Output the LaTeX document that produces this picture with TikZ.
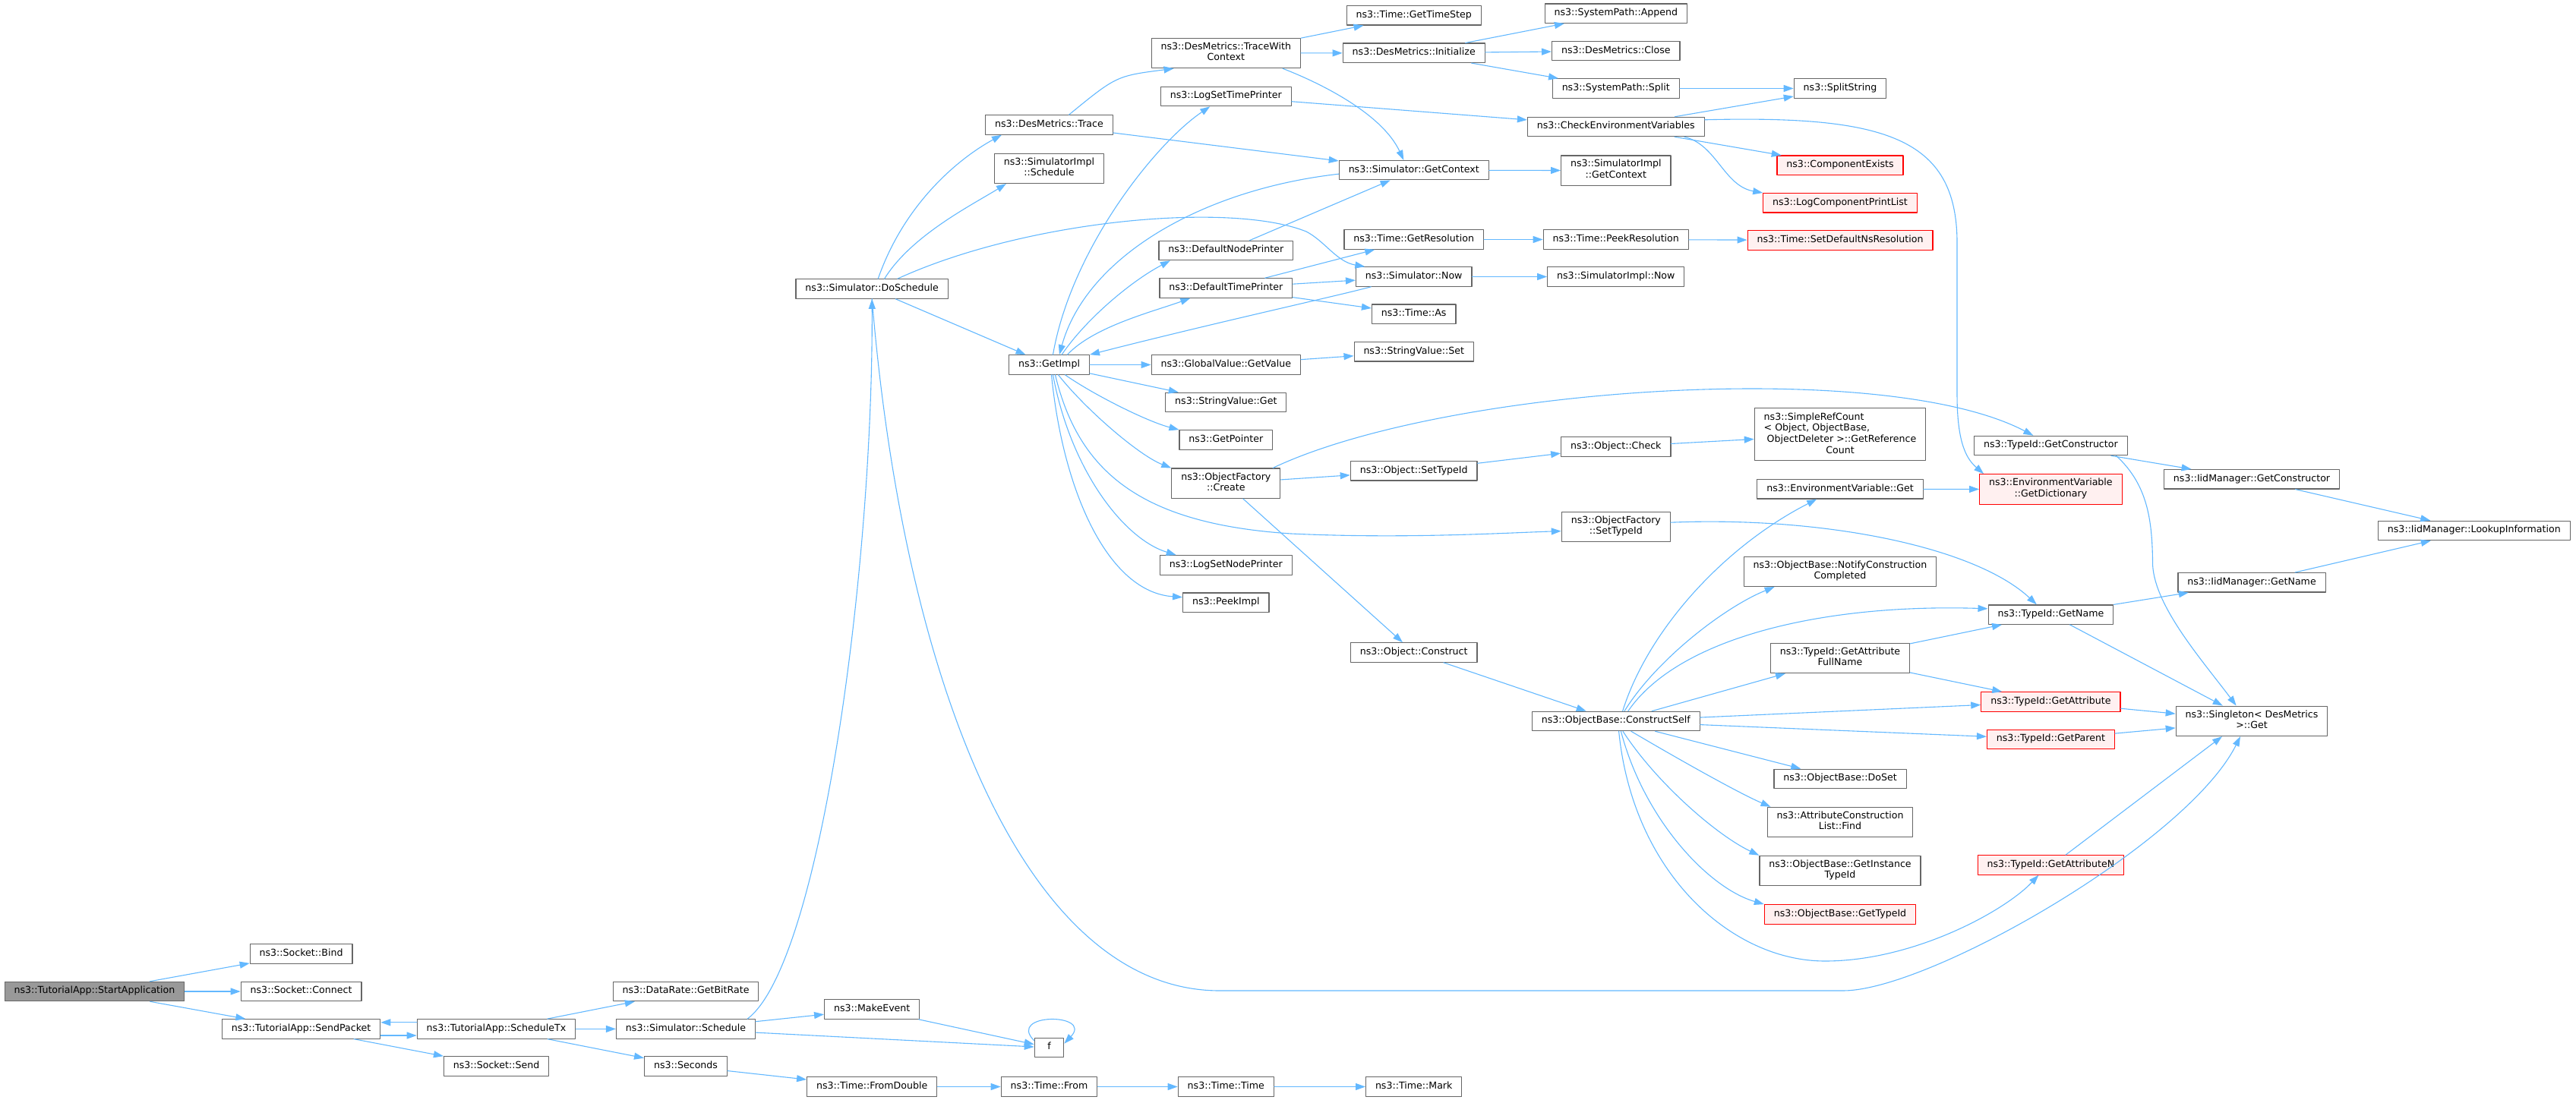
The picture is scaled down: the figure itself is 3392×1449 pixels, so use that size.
\documentclass[tikz,border=0pt]{standalone}
\usepackage{fontspec}
\setmainfont{DejaVu Sans}
\usetikzlibrary{arrows.meta}

\definecolor{callblue}{HTML}{63B8FF}
\definecolor{boxedge}{HTML}{666666}
\definecolor{rootfill}{HTML}{999999}
\definecolor{warnfill}{HTML}{FFF0F0}
\newcommand{\doxfont}{\fontsize{6.3}{7.3}\selectfont}

\begin{document}
\begin{tikzpicture}[x = 0.5pt, y = -0.5pt, line cap = round, line join = round,
  fnbase/.style = {draw = boxedge, fill = white, line width = 0.6pt, font = \doxfont,
    inner xsep = 6.2pt, inner ysep = 2.7pt,
    execute at begin node = \strut, execute at end node = \strut},
  fn/.style = {fnbase, align = center},
  rootfn/.style = {fn, fill = rootfill},
  warnfn/.style = {fn, draw = red, fill = warnfill},
  call/.style = {-{Triangle[length = 6.5pt, width = 4.5pt]}, draw = callblue,
    line width = 0.55pt}]
  \useasboundingbox (0, 0) rectangle (3392, 1449);

  % left part
  \node[rootfn] (start) at (124.5, 1306) {ns3::TutorialApp::StartApplication};
  \node[fn] (bind) at (396.6, 1256.5) {ns3::Socket::Bind};
  \node[fn] (connect) at (396.6, 1306) {ns3::Socket::Connect};
  \node[fn] (sendpkt) at (396.6, 1355.4) {ns3::TutorialApp::SendPacket};
  \node[fn] (schedtx) at (653.5, 1355.4) {ns3::TutorialApp::ScheduleTx};
  \node[fn] (send) at (653.5, 1404.5) {ns3::Socket::Send};
  \node[fn] (bitrate) at (903, 1306) {ns3::DataRate::GetBitRate};
  \node[fn] (sched) at (903, 1355.4) {ns3::Simulator::Schedule};
  \node[fn] (seconds) at (903, 1404.5) {ns3::Seconds};
  \node[fn] (makeevent) at (1148.2, 1329.5) {ns3::MakeEvent};
  \node[fn, minimum width = 19.2pt] (f) at (1381.5, 1380) {f};
  \node[fn] (fromdouble) at (1148.2, 1431.5) {ns3::Time::FromDouble};
  \node[fn] (from) at (1381.5, 1431.5) {ns3::Time::From};
  \node[fn] (ttime) at (1614.3, 1431.5) {ns3::Time::Time};
  \node[fn] (mark) at (1861.7, 1431.5) {ns3::Time::Mark};

  % simulator part
  \node[fn] (dosched) at (1148.2, 380.5) {ns3::Simulator::DoSchedule};
  \node[fn] (trace) at (1381.5, 164.5) {ns3::DesMetrics::Trace};
  \node[fn] (simimplsched) at (1381.5, 221.8) {ns3::SimulatorImpl\\::Schedule};
  \node[fn] (getimpl) at (1381.5, 480.5) {ns3::GetImpl};
  \node[fn] (twc) at (1614.3, 70) {ns3::DesMetrics::TraceWith\\Context};
  \node[fn] (logsettime) at (1614.3, 127) {ns3::LogSetTimePrinter};
  \node[fn] (defnode) at (1614.3, 330) {ns3::DefaultNodePrinter};
  \node[fn] (deftime) at (1614.3, 379.5) {ns3::DefaultTimePrinter};
  \node[fn] (getvalue) at (1614.3, 480.5) {ns3::GlobalValue::GetValue};
  \node[fn] (svget) at (1614.3, 530) {ns3::StringValue::Get};
  \node[fn] (getpointer) at (1614.3, 579.4) {ns3::GetPointer};
  \node[fn] (create) at (1614.3, 636.7) {ns3::ObjectFactory\\::Create};
  \node[fn] (lognode) at (1614.3, 744.4) {ns3::LogSetNodePrinter};
  \node[fn] (peekimpl) at (1614.3, 793.7) {ns3::PeekImpl};
  \node[fn] (timestep) at (1861.7, 20.3) {ns3::Time::GetTimeStep};
  \node[fn] (init) at (1861.7, 69.8) {ns3::DesMetrics::Initialize};
  \node[fn] (simctx) at (1861.7, 224.2) {ns3::Simulator::GetContext};
  \node[fn] (getres) at (1861.7, 315.5) {ns3::Time::GetResolution};
  \node[fn] (simnow) at (1861.7, 364.5) {ns3::Simulator::Now};
  \node[fn] (timeas) at (1861.7, 413.7) {ns3::Time::As};
  \node[fn] (svset) at (1861.7, 463.3) {ns3::StringValue::Set};
  \node[fn] (objsettype) at (1861.7, 620.3) {ns3::Object::SetTypeId};
  \node[fn] (construct) at (1861.7, 859.5) {ns3::Object::Construct};
  \node[fn] (append) at (2127.8, 17.7) {ns3::SystemPath::Append};
  \node[fn] (close) at (2127.8, 67.2) {ns3::DesMetrics::Close};
  \node[fn] (split) at (2127.8, 116.5) {ns3::SystemPath::Split};
  \node[fn] (checkenv) at (2127.8, 167) {ns3::CheckEnvironmentVariables};
  \node[fn] (implctx) at (2127.8, 224.6) {ns3::SimulatorImpl\\::GetContext};
  \node[fn] (peekres) at (2127.8, 315.5) {ns3::Time::PeekResolution};
  \node[fn] (implnow) at (2127.8, 364.5) {ns3::SimulatorImpl::Now};
  \node[fn] (check) at (2127.8, 588.5) {ns3::Object::Check};
  \node[fn] (factsettype) at (2127.8, 693.8) {ns3::ObjectFactory\\::SetTypeId};
  \node[fn] (constructself) at (2127.8, 950) {ns3::ObjectBase::ConstructSelf};

  % right part
  \node[fn] (splitstr) at (2423, 116.5) {ns3::SplitString};
  \node[warnfn] (compexists) at (2423, 217.8) {ns3::ComponentExists};
  \node[warnfn] (logcomp) at (2423, 267.3) {ns3::LogComponentPrintList};
  \node[warnfn] (setdefres) at (2423, 316.5) {ns3::Time::SetDefaultNsResolution};
  \node[fnbase] (refcount) at (2423, 572.2) {\begin{tabular}{@{}l@{}}ns3::SimpleRefCount\\
    < Object, ObjectBase,\\\ ObjectDeleter >::GetReference\\\multicolumn{1}{@{}c@{}}{Count}\end{tabular}};
  \node[fn] (envget) at (2423, 644.3) {ns3::EnvironmentVariable::Get};
  \node[fn] (notify) at (2423, 752.8) {ns3::ObjectBase::NotifyConstruction\\Completed};
  \node[fn] (attrfull) at (2423, 866.9) {ns3::TypeId::GetAttribute\\FullName};
  \node[fn] (doset) at (2423, 1025.9) {ns3::ObjectBase::DoSet};
  \node[fn] (find) at (2423, 1083) {ns3::AttributeConstruction\\List::Find};
  \node[fn] (instid) at (2423, 1147) {ns3::ObjectBase::GetInstance\\TypeId};
  \node[warnfn] (gettypeid) at (2423, 1204.4) {ns3::ObjectBase::GetTypeId};
  \node[fn] (getctor) at (2700.4, 587) {ns3::TypeId::GetConstructor};
  \node[warnfn] (getdict) at (2700.4, 644.5) {ns3::EnvironmentVariable\\::GetDictionary};
  \node[fn] (tgetname) at (2700.4, 809.6) {ns3::TypeId::GetName};
  \node[warnfn] (getattr) at (2700.4, 924.4) {ns3::TypeId::GetAttribute};
  \node[warnfn] (getparent) at (2700.4, 973.8) {ns3::TypeId::GetParent};
  \node[warnfn] (getattrn) at (2700.4, 1139.4) {ns3::TypeId::GetAttributeN};
  \node[fn] (iidctor) at (2965, 631.3) {ns3::IidManager::GetConstructor};
  \node[fn] (iidname) at (2965, 767.3) {ns3::IidManager::GetName};
  \node[fn] (singleton) at (2965, 949.8) {ns3::Singleton< DesMetrics\\>::Get};
  \node[fn] (lookup) at (3257.8, 699) {ns3::IidManager::LookupInformation};

  % calls
  \draw[call] (start) -- (bind);
  \draw[call] (start) -- (connect);
  \draw[call] (start) -- (sendpkt);
  \draw[call] ([yshift = -4.3pt]sendpkt.east) -- ([yshift = -4.3pt]schedtx.west);
  \draw[call] ([yshift = 4.3pt]schedtx.west) -- ([yshift = 4.3pt]sendpkt.east);
  \draw[call] (sendpkt) -- (send);
  \draw[call] (schedtx) -- (bitrate);
  \draw[call] (schedtx) -- (sched);
  \draw[call] (schedtx) -- (seconds);
  \draw[call] (seconds) -- (fromdouble);
  \draw[call] (fromdouble) -- (from);
  \draw[call] (from) -- (ttime);
  \draw[call] (ttime) -- (mark);
  \draw[call] (sched) -- (makeevent);
  \draw[call] (sched) -- (f);
  \draw[call] (makeevent) -- (f);
  \draw[call] (f.155) .. controls (1325, 1334) and (1440, 1334) .. (f.15);
  \draw[call] ([xshift = 40.6pt]sched.north) .. controls (1080, 1270) and (1150, 750) .. (dosched.south);
  \draw[call] (dosched.south) .. controls (1190, 900) and (1350, 1305) .. (1606, 1305)
    -- (2427, 1305) .. controls (2540, 1305) and (2880, 1110) .. ([xshift = -7.5pt]singleton.south);

  \draw[call] ([xshift = 4pt]dosched.north) .. controls (1190, 270) and (1260, 210) .. ([xshift = -31.3pt]trace.south);
  \draw[call] ([xshift = 8.2pt]dosched.north) .. controls (1200, 310) and (1280, 270) .. ([xshift = -28.3pt]simimplsched.south);
  \draw[call] ([xshift = 16.8pt]dosched.north) .. controls (1350, 290) and (1620, 265) .. (1720, 305)
    .. controls (1745, 318) and (1760, 345) .. ([xshift = -32.2pt]simnow.north);
  \draw[call] (dosched) -- (getimpl);
  \draw[call] ([xshift = 13pt]trace.north) .. controls (1470, 100) .. ([xshift = -34.4pt]twc.south);
  \draw[call] (trace) -- (simctx);
  \draw[call] (twc) -- (timestep);
  \draw[call] (twc) -- (init);
  \draw[call] ([xshift = 37.4pt]twc.south) .. controls (1740, 110) and (1820, 150) .. ([xshift = -6.7pt]simctx.north);
  \draw[call] (init) -- (append);
  \draw[call] (init) -- (close);
  \draw[call] (init) -- (split);
  \draw[call] (split) -- (splitstr);
  \draw[call] (logsettime) -- (checkenv);
  \draw[call] (checkenv) -- (splitstr);
  \draw[call] (checkenv) -- (compexists);
  \draw[call] ([xshift = 45pt]checkenv.south) .. controls (2260, 190) and (2270, 245) .. (logcomp.north west);
  \draw[call] ([yshift = 4.6pt]checkenv.east) .. controls (2480, 152) and (2577, 180) .. (2577, 320)
    -- (2577, 520) .. controls (2577, 585) and (2590, 605) .. ([xshift = 3pt]getdict.north west);

  \draw[call] (simctx) -- (implctx);
  \draw[call] ([yshift = -2.5pt]simctx.west) .. controls (1580, 250) and (1430, 340) .. ([xshift = 6.7pt]getimpl.north);
  \draw[call] ([xshift = 2.5pt]getimpl.north) .. controls (1410, 330) and (1520, 190) .. ([xshift = -10.5pt]logsettime.south);
  \draw[call] ([xshift = 8.3pt]getimpl.north) .. controls (1430, 420) and (1490, 370) .. ([xshift = -36.7pt]defnode.south);
  \draw[call] ([xshift = 12pt]getimpl.north) .. controls (1440, 430) and (1520, 410) .. ([xshift = -23.5pt]deftime.south);
  \draw[call] (defnode) -- (simctx);
  \draw[call] (deftime) -- (getres);
  \draw[call] (deftime) -- (simnow);
  \draw[call] (deftime) -- (timeas);
  \draw[call] (getres) -- (peekres);
  \draw[call] (peekres) -- (setdefres);
  \draw[call] (simnow) -- (implnow);
  \draw[call] ([xshift = -28.2pt]simnow.south) .. controls (1760, 390) and (1600, 425) .. (getimpl.north east);

  \draw[call] (getimpl) -- (getvalue);
  \draw[call] (getvalue) -- (svset);
  \draw[call] (getimpl) -- (svget);
  \draw[call] ([xshift = 10.5pt]getimpl.south) .. controls (1440, 520) and (1510, 555) .. (getpointer.north west);
  \draw[call] ([xshift = 6pt]getimpl.south) .. controls (1430, 540) and (1500, 600) .. (create.north west);
  \draw[call] ([xshift = 4pt]getimpl.south) .. controls (1420, 620) and (1500, 690) .. (1700, 703)
    .. controls (1850, 710) and (1980, 702) .. ([yshift = -2.9pt]factsettype.west);
  \draw[call] ([xshift = 2.5pt]getimpl.south) .. controls (1410, 620) and (1480, 710) .. ([xshift = -32.8pt]lognode.north);
  \draw[call] ([xshift = 1.5pt]getimpl.south) .. controls (1400, 650) and (1460, 780) .. ([yshift = 3.5pt]peekimpl.west);

  \draw[call] (create) -- (objsettype);
  \draw[call] (create) -- (construct);
  \draw[call] ([xshift = 30.9pt]create.north) .. controls (1900, 510) and (2480, 470) .. ([xshift = -11.5pt]getctor.north);
  \draw[call] (objsettype) -- (check);
  \draw[call] (check) -- (refcount);
  \draw[call] ([yshift = 2.8pt]factsettype.east) .. controls (2400, 680) and (2600, 720) .. ([xshift = -9.3pt]tgetname.north);
  \draw[call] (construct) -- (constructself);

  \draw[call] ([xshift = 4.4pt]constructself.north) .. controls (2170, 830) and (2270, 720) .. ([xshift = -15.4pt]envget.south);
  \draw[call] ([xshift = 5.6pt]constructself.north) .. controls (2180, 870) and (2270, 800) .. ([xshift = -43.2pt]notify.south);
  \draw[call] ([xshift = 8pt]constructself.north) .. controls (2210, 840) and (2400, 795) .. ([yshift = 3.9pt]tgetname.west);
  \draw[call] (constructself) -- (attrfull);
  \draw[call] (constructself) -- (getattr);
  \draw[call] (constructself) -- (getparent);
  \draw[call] (constructself) -- (doset);
  \draw[call] ([xshift = 10pt]constructself.south) .. controls (2210, 1000) and (2290, 1045) .. ([xshift = 2.5pt]find.north west);
  \draw[call] ([xshift = 4.6pt]constructself.south) .. controls (2180, 1030) and (2260, 1100) .. (instid.north west);
  \draw[call] ([xshift = 3.3pt]constructself.south) .. controls (2165, 1080) and (2250, 1170) .. (gettypeid.north west);
  \draw[call] ([xshift = 1.9pt]constructself.south) .. controls (2150, 1150) and (2280, 1266) .. (2403, 1266)
    .. controls (2520, 1266) and (2640, 1200) .. ([xshift = -8pt]getattrn.south);
  \draw[call] (attrfull) -- (tgetname);
  \draw[call] (attrfull) -- (getattr);
  \draw[call] (envget) -- (getdict);

  \draw[call] (getctor) -- (iidctor);
  \draw[call] ([xshift = 43pt]getctor.south) .. controls (2830, 640) and (2834, 690) .. (2834.6, 745)
    .. controls (2838, 800) and (2900, 870) .. ([xshift = -10.2pt]singleton.north);
  \draw[call] (tgetname) -- (iidname);
  \draw[call] (tgetname) -- (singleton);
  \draw[call] (getattr) -- (singleton);
  \draw[call] (getparent) -- (singleton);
  \draw[call] ([xshift = 9.8pt]getattrn.north) -- ([xshift = -19.5pt]singleton.south);
  \draw[call] (iidctor) -- (lookup);
  \draw[call] (iidname) -- (lookup);
\end{tikzpicture}
\end{document}
